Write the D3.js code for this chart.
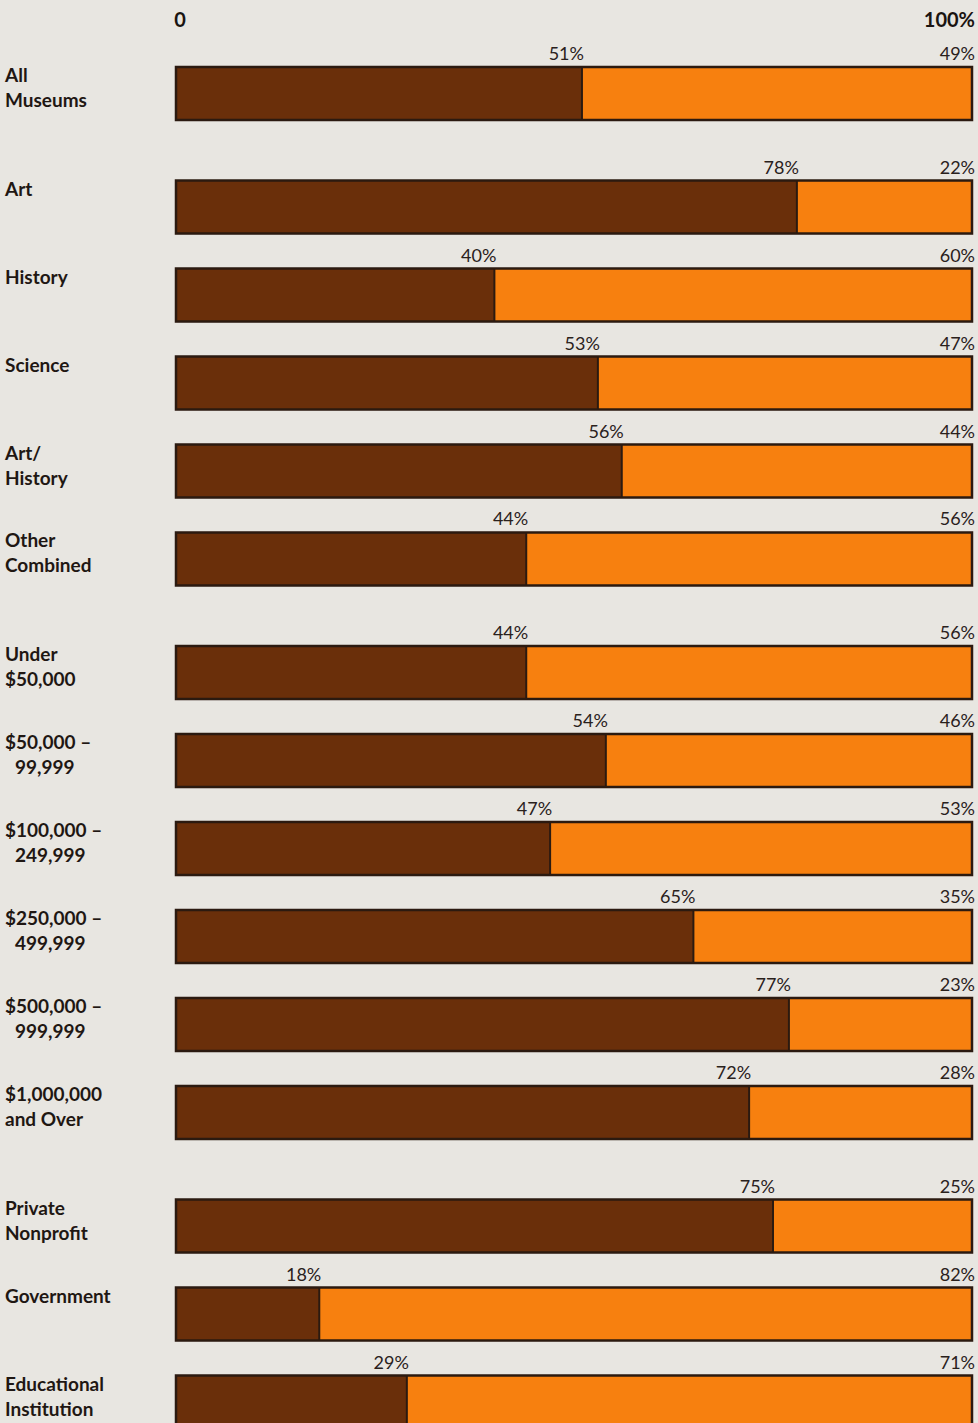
<!DOCTYPE html>
<html>
<head>
<meta charset="utf-8">
<script src="https://cdn.jsdelivr.net/npm/d3@7"></script>
<style>
  html, body { margin: 0; padding: 0; background: #e8e6e1; }
  svg { display: block; }
</style>
</head>
<body>
<svg id="chart" width="978" height="1423"></svg>
<script>
// Category labels (lines) and the group each row belongs to
const categories = [
  ["All", "Museums"],
  ["Art"],
  ["History"],
  ["Science"],
  ["Art/", "History"],
  ["Other", "Combined"],
  ["Under", "$50,000"],
  ["$50,000 –", " 99,999"],
  ["$100,000 –", " 249,999"],
  ["$250,000 –", " 499,999"],
  ["$500,000 –", " 999,999"],
  ["$1,000,000", "and Over"],
  ["Private", "Nonprofit"],
  ["Government"],
  ["Educational", "Institution"]
];
const groups = [0, 1, 1, 1, 1, 1, 2, 2, 2, 2, 2, 2, 3, 3, 3];

// Share of each row (dark segment, light segment), in percent
const darkShare  = [51, 78, 40, 53, 56, 44, 44, 54, 47, 65, 77, 72, 75, 18, 29];
const lightShare = [49, 22, 60, 47, 44, 56, 56, 46, 53, 35, 23, 28, 25, 82, 71];

const tickLabels = ["0", "100%"];

const rows = categories.map((c, i) => ({
  lines: c, group: groups[i], dark: darkShare[i], light: lightShare[i],
  slot: i + 0.29 * groups[i]
}));

const svg = d3.select("#chart");
const font = "Lato, 'Open Sans', sans-serif";

const x = d3.scaleLinear().domain([0, 100]).range([176, 972]);
const lastSlot = rows[rows.length - 1].slot;
const y = d3.scaleLinear().domain([0, lastSlot]).range([67, 1375.5]);
const barH = 53;

const darkColor = "#6a2f0a";
const lightColor = "#f7800f";
const edge = "#2b1a10";

// Scale ends
svg.append("text")
  .attr("x", x(0) + 4).attr("y", 27)
  .attr("text-anchor", "middle")
  .attr("font-family", font).attr("font-weight", 700).attr("font-size", 20)
  .attr("fill", "#1a1411")
  .text(tickLabels[0]);
svg.append("text")
  .attr("x", x(100) + 3).attr("y", 27)
  .attr("text-anchor", "end")
  .attr("font-family", font).attr("font-weight", 700).attr("font-size", 20)
  .attr("fill", "#1a1411")
  .text(tickLabels[1]);

const row = svg.selectAll("g.row").data(rows).join("g")
  .attr("class", "row")
  .attr("transform", d => `translate(0,${y(d.slot)})`);

// Dark segment
row.append("rect")
  .attr("x", x(0)).attr("y", 0)
  .attr("width", d => x(d.dark) - x(0)).attr("height", barH)
  .attr("fill", darkColor);

// Light segment
row.append("rect")
  .attr("x", d => x(d.dark)).attr("y", 0)
  .attr("width", d => x(100) - x(d.dark)).attr("height", barH)
  .attr("fill", lightColor);

// Divider between segments
row.append("line")
  .attr("x1", d => x(d.dark)).attr("x2", d => x(d.dark))
  .attr("y1", 0).attr("y2", barH)
  .attr("stroke", edge).attr("stroke-width", 2);

// Outline
row.append("rect")
  .attr("x", x(0)).attr("y", 0)
  .attr("width", x(100) - x(0)).attr("height", barH)
  .attr("fill", "none")
  .attr("stroke", edge).attr("stroke-width", 2.5);

// Value labels
row.append("text")
  .attr("x", d => x(d.dark) + 2).attr("y", -7)
  .attr("text-anchor", "end")
  .attr("font-family", font).attr("font-size", 18)
  .attr("fill", "#2a211c")
  .text(d => d.dark + "%");

row.append("text")
  .attr("x", x(100) + 3).attr("y", -7)
  .attr("text-anchor", "end")
  .attr("font-family", font).attr("font-size", 18)
  .attr("fill", "#2a211c")
  .text(d => d.light + "%");

// Category labels
const lab = row.append("text")
  .attr("font-family", font).attr("font-weight", 700).attr("font-size", 19)
  .attr("fill", "#1f1713");
lab.selectAll("tspan").data(d => d.lines.map((l, k) => ({ l, k, row: d }))).join("tspan")
  .attr("x", t => (t.l.startsWith(" ") ? 15 : 5))
  .attr("y", t => 15 + t.k * 25)
  .text(t => t.l.trim());
</script>
</body>
</html>
